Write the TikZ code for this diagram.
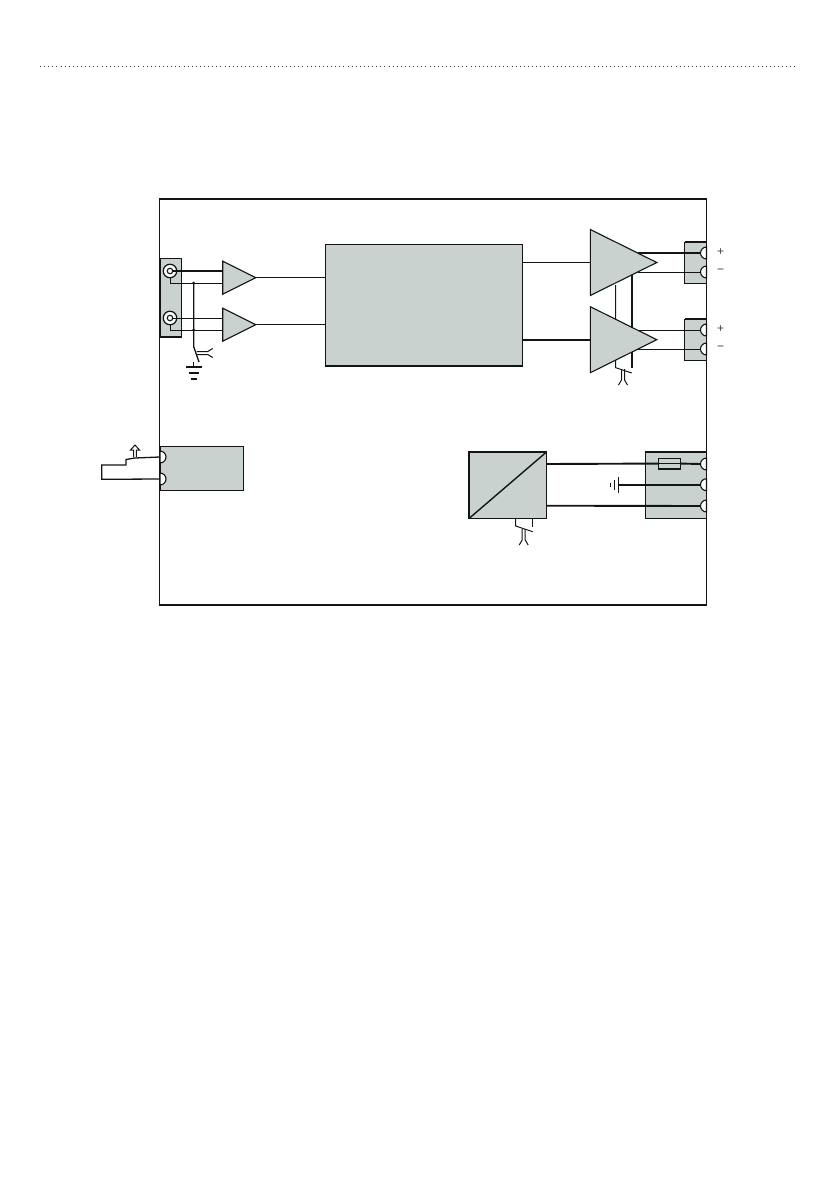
\documentclass[tikz,border=0pt]{standalone}
\usepackage{xcolor}
\usepackage{fontspec}
\setsansfont{Liberation Sans}
\usetikzlibrary{shapes.geometric,positioning,calc}
\definecolor{blockgrey}{HTML}{C9D2CF}
\definecolor{wirekey}{HTML}{141414}
\tikzset{
  thinwire/.style={draw=wirekey,line width=1pt},
  thickwire/.style={draw=wirekey,line width=1.9pt},
  blockbox/.style={draw=wirekey,fill=blockgrey,line width=0.7pt,rectangle,inner sep=0pt,outer sep=0pt,anchor=north west},
  ampl/.style={draw=wirekey,fill=blockgrey,line width=1.1pt,isosceles triangle,isosceles triangle stretches,shape border rotate=0,inner sep=0pt,outer sep=0pt,anchor=lower side},
  termr/.style={draw=wirekey,fill=white,line width=1.1pt,semicircle,shape border rotate=90,minimum size=6pt,inner sep=0pt,outer sep=0pt,anchor=chord center},
  terml/.style={termr,shape border rotate=270},
  coax/.style={draw=wirekey,fill=white,line width=1.2pt,circle,minimum size=13.5pt,inner sep=0pt,outer sep=0pt},
  coaxin/.style={draw=wirekey,fill=white,line width=1.1pt,circle,minimum size=5.5pt,inner sep=0pt,outer sep=0pt},
  signlabel/.style={font=\sffamily\fontsize{12}{12}\selectfont,text=wirekey!80,inner sep=0pt}
}
\begin{document}
\begin{tikzpicture}[x=1pt,y=-1pt]
\useasboundingbox (0,0) rectangle (839,1191);
% page rule
\coordinate (ruleL) at (40,66);
\coordinate (ruleR) at (795,66);
\draw[wirekey!85,line width=1pt,dash pattern=on 1pt off 3.1pt] (ruleL) -- (ruleR);

% blocks
\node[blockbox,minimum width=21pt,minimum height=79pt] (inblock) at (160,258) {};
\node[blockbox,minimum width=197pt,minimum height=122pt] (mainblock) at (325,244) {};
\node[blockbox,minimum width=22pt,minimum height=41pt] (outblocka) at (684.5,242) {};
\node[blockbox,minimum width=22pt,minimum height=41pt] (outblockb) at (684.5,319) {};
\node[blockbox,minimum width=83pt,minimum height=44pt] (relayblock) at (160,446.5) {};
\node[blockbox,line width=1.5pt,minimum width=77.5pt,minimum height=66.5pt] (dcblock) at (469,452) {};
\node[blockbox,line width=1.3pt,minimum width=61pt,minimum height=66.5pt] (powblock) at (645.5,452) {};
\draw[thickwire] (outblocka.north west) -- (outblocka.north east);
\draw[thickwire] (outblockb.north west) -- (outblockb.north east);
\draw[thickwire] (inblock.south west) -- (inblock.south east);
\draw[thickwire] (mainblock.south west) -- (mainblock.south east);
\draw[thickwire,line width=1.4pt] (dcblock.south west) -- (dcblock.north east);

% supply lines behind the output amps
\coordinate (railaT) at (615.7,285);
\coordinate (railaB) at (615.7,367.7);
\coordinate (railbT) at (632.3,275);
\coordinate (railbB) at (632.3,367.7);
\coordinate (railaS) at (631.7,373);
\draw[thinwire] (railaT) -- (railaB) -- (railaS);
\draw[thickwire] (railbT) -- (railbB);

% amplifiers
\node[ampl,minimum width=33pt,minimum height=33pt] (ampa) at (222.7,277.7) {};
\node[ampl,minimum width=33pt,minimum height=33pt] (ampb) at (222.7,324.7) {};
\node[ampl,minimum width=66pt,minimum height=66.5pt] (ampc) at (590.3,262.5) {};
\node[ampl,minimum width=66pt,minimum height=66.5pt] (ampd) at (590.3,339.7) {};

% terminals
\foreach \n/\y in {ta/253,tb/272,tc/330,td/349,tp/464,tq/484.7,tr/506}
  \node[termr] (\n) at (706.5,\y) {};
\node[terml] (rela) at (160,457) {};
\node[terml] (relb) at (160,479) {};

% input connectors
\node[coax] (coaxa) at (170,271) {};
\node[coaxin] (coaxai) at (170,271) {};
\node[coax] (coaxb) at (170,318) {};
\node[coaxin] (coaxbi) at (170,318) {};
\coordinate (ampaU) at (222.7,271);
\coordinate (ampaL) at (222.7,283);
\coordinate (ampbU) at (222.7,318);
\coordinate (ampbL) at (222.7,330);
\draw[thickwire] (coaxai) -- (ampaU);
\draw[thinwire] (coaxbi) -- (ampbU);
\draw[thinwire] (coaxa.south) |- (ampaL);
\draw[thinwire] (coaxb.south) |- (ampbL);

% input shield and earth
\coordinate (gndT) at (193.7,283);
\coordinate (gndM) at (193.7,346.7);
\coordinate (gndS) at (199,362);
\coordinate (gndD) at (193.7,330);
\draw[thinwire,line width=1.3pt] (gndT) -- (gndM) -- (gndS);
\fill[wirekey] (gndT) circle (1.5pt) (gndD) circle (1.5pt);
\coordinate (gndE) at (193.7,362);
\coordinate (gndF) at (193.7,367);
\draw[thinwire] (gndE) -- (gndF);
\draw[thickwire,line width=1.3pt] (186,367) -- (201.7,367) (188.5,373) -- (199,373) (191,379) -- (196.5,379);

% signal path
\draw[thinwire] (ampa.apex) -- (ampa.apex -| mainblock.west);
\draw[thinwire] (ampb.apex) -- (ampb.apex -| mainblock.west);
\draw[thinwire] (mainblock.east |- ampc.lower side) -- (ampc.lower side);
\draw[thickwire] (mainblock.east |- ampd.lower side) -- (ampd.lower side);

% outputs
\coordinate (outa) at (638,253);
\coordinate (outb) at (638,272);
\coordinate (outc) at (638,330);
\coordinate (outd) at (638,349);
\draw[thickwire] (outa) -- (ta.apex);
\draw[thinwire] (outb) -- (tb.apex);
\draw[thinwire] (outc) -- (tc.apex);
\draw[thinwire] (outd) -- (td.apex);

% shield symbols
\foreach \x/\y/\r in {623/369/0,523.7/529/0,196.7/353/90} {
  \begin{scope}[shift={(\x,\y)},rotate=\r]
    \draw[thinwire] (-1.5,0) -- (-1.5,11) -- (-4.5,16);
    \draw[thinwire] (1.5,0) -- (1.5,11) -- (4.5,16);
  \end{scope}
}

% switch contact
\coordinate (relin) at (135,458);
\coordinate (relst) at (126,459.5);
\coordinate (relup) at (126,465);
\coordinate (relle) at (101.7,465);
\coordinate (rello) at (101.7,479.3);
\draw[thinwire,line width=1.3pt] (rela.chord center) -- (relin) -- (relst) -- (relup) -- (relle) -- (rello) -- (relb.chord center);
\draw[thinwire] (133.7,457) -- (133.7,450) -- (130.5,450) -- (135,445) -- (139.5,450) -- (136.3,450) -- (136.3,457);

% converter and supply
\coordinate (fuL) at (658.7,458.3);
\node[draw=wirekey,line width=1.4pt,minimum width=21.5pt,minimum height=10.5pt,inner sep=0pt,outer sep=0pt,anchor=north west] (fuse) at (fuL) {};
\coordinate (dcU) at (546.3,464);
\coordinate (dcL) at (546.3,505.7);
\draw[thickwire] (dcU) -- (fuse.west);
\draw[thinwire] (fuse.west) -- (fuse.east);
\draw[thickwire] (fuse.east) -- (tp.apex);
\draw[thickwire] (dcL) -- (tr.apex);
\coordinate (pe) at (618.7,484.7);
\draw[thickwire] (pe) -- (tq.apex);
\draw[thinwire,line width=1.3pt] (618.7,477) -- (618.7,493) (614.3,480) -- (614.3,490) (610.7,483) -- (610.7,487);

% converter screen
\coordinate (dcsaT) at (515.7,518);
\coordinate (dcsaB) at (515.7,526);
\coordinate (dcsaS) at (532.7,531.7);
\coordinate (dcsbT) at (532.3,518);
\coordinate (dcsbB) at (532.3,527);
\draw[thinwire] (dcsaT) -- (dcsaB) -- (dcsaS);
\draw[thinwire] (dcsbT) -- (dcsbB);

% frame
\coordinate (frTL) at (159.7,199);
\coordinate (frBR) at (706.5,605);
\draw[wirekey,line width=1.1pt] (frTL) rectangle (frBR);
\draw[wirekey,line width=1.6pt] (frTL |- frBR) -- (frBR);
\draw[wirekey,line width=1.4pt] (frTL) -- (frTL -| frBR);

% signs
\node[signlabel] (plusa) at (720.5,252.5) {+};
\node[signlabel] (minusa) at (720.5,271.5) {\textminus};
\node[signlabel] (plusb) at (720.5,329.5) {+};
\node[signlabel] (minusb) at (720.5,348.5) {\textminus};
\end{tikzpicture}
\end{document}
